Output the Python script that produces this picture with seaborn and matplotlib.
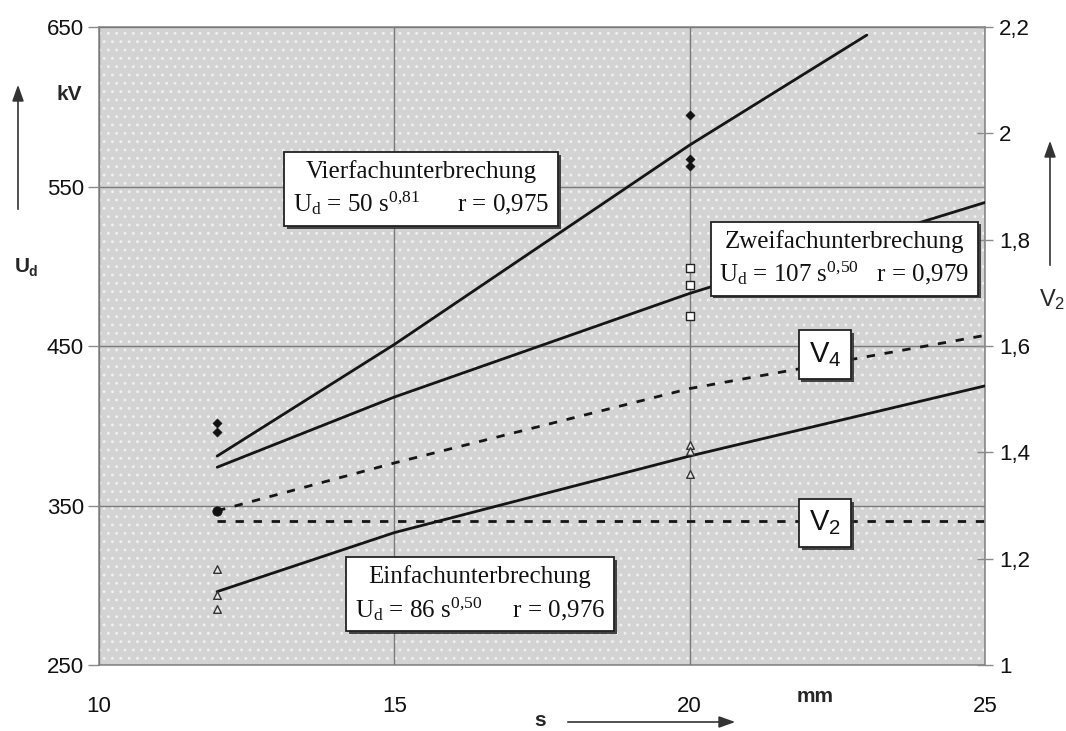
import numpy as np
import pandas as pd
import matplotlib
matplotlib.use('Agg')
import matplotlib.pyplot as plt
import matplotlib.patheffects as pe
from matplotlib.patches import Rectangle, FancyArrowPatch
from matplotlib.ticker import FuncFormatter
import seaborn as sns

# --- Daten ---
# Messpunkte U_d in kV
s_vier_pts = [12, 12, 20, 20, 20]
ud_vier_pts = [402, 396, 595, 567, 563]
s_zwei_pts = [20, 20, 20]
ud_zwei_pts = [499, 488, 469]
s_ein_pts = [12, 12, 12, 20, 20, 20]
ud_ein_pts = [310, 294, 285, 388, 384, 370]

# Ausgleichskurven U_d (kV)
s_vier_fit = [12, 15, 20, 23]
ud_vier_fit = [381, 451, 576, 645]
s_zwei_fit = [12, 15, 20, 25]
ud_zwei_fit = [374, 418, 483, 540]
s_ein_fit = [12, 15, 20, 25]
ud_ein_fit = [296, 333, 381, 425]

# Verhältnisse V4, V2 (rechte Achse)
s_v4 = [12, 15, 20, 25]
v4 = [1.29, 1.38, 1.52, 1.62]
s_v2 = [12, 20, 25]
v2 = [1.27, 1.27, 1.27]

sns.set_theme(style='white')
plt.rcParams['font.family'] = ['Liberation Sans', 'DejaVu Sans']
plt.rcParams['mathtext.fontset'] = 'custom'
plt.rcParams['mathtext.rm'] = 'Liberation Serif'
plt.rcParams['mathtext.it'] = 'Liberation Serif:italic'
plt.rcParams['mathtext.sf'] = 'Liberation Sans'
plt.rcParams['hatch.linewidth'] = 0.9

fig = plt.figure(figsize=(10.66, 7.31), dpi=100)
ax = fig.add_axes([0.0929, 0.0903, 0.8311, 0.8727])
ax2 = ax.twinx()

# Hintergrund grau mit weißem Punktraster
ax.set_facecolor('#d3d3d3')
ax.add_patch(Rectangle((0, 0), 1, 1, transform=ax.transAxes, facecolor='#d3d3d3',
                       hatch='..', edgecolor='#f0f0f0', lw=0, zorder=0))
ax2.patch.set_visible(False)

ax.set_xlim(10, 25)
ax.set_ylim(250, 650)
ax2.set_ylim(1, 2.2)
ax.set_xticks([10, 15, 20, 25])
ax.set_yticks([250, 350, 450, 550, 650])
ax2.set_yticks([1.0, 1.2, 1.4, 1.6, 1.8, 2.0, 2.2])
ax2.yaxis.set_major_formatter(FuncFormatter(lambda v, p: f'{v:g}'.replace('.', ',')))

ax.grid(True, color='#7a7a7a', lw=1.0, zorder=1)
ax.set_axisbelow(False)
for sp in ['left', 'right', 'top', 'bottom']:
    ax.spines[sp].set_color('#8a8a8a')
    ax.spines[sp].set_linewidth(1.2)
    ax2.spines[sp].set_visible(False)
ax.tick_params(axis='both', direction='out', length=8, width=1.0, color='#8a8a8a',
               labelsize=16, labelcolor='#111111', pad=3)
ax.tick_params(axis='x', pad=14)
ax2.tick_params(axis='y', direction='inout', length=12, width=1.0, color='#8a8a8a',
                labelsize=16, labelcolor='#111111', pad=4)

line_kw = dict(color='#151515', lw=2.0, legend=False, zorder=3)
fit_vier = pd.DataFrame({'s': s_vier_fit, 'Ud': ud_vier_fit})
fit_zwei = pd.DataFrame({'s': s_zwei_fit, 'Ud': ud_zwei_fit})
fit_ein = pd.DataFrame({'s': s_ein_fit, 'Ud': ud_ein_fit})
sns.lineplot(data=fit_vier, x='s', y='Ud', ax=ax, **line_kw)
sns.lineplot(data=fit_zwei, x='s', y='Ud', ax=ax, **line_kw)
sns.lineplot(data=fit_ein, x='s', y='Ud', ax=ax, **line_kw)

pts_vier = pd.DataFrame({'s': s_vier_pts, 'Ud': ud_vier_pts})
pts_zwei = pd.DataFrame({'s': s_zwei_pts, 'Ud': ud_zwei_pts})
pts_ein = pd.DataFrame({'s': s_ein_pts, 'Ud': ud_ein_pts})
sns.scatterplot(data=pts_vier, x='s', y='Ud', ax=ax, marker='D', s=22, color='#111111',
                edgecolor='#111111', zorder=4, legend=False)
sns.scatterplot(data=pts_zwei, x='s', y='Ud', ax=ax, marker='s', s=28, color='white',
                edgecolor='#222222', linewidth=1.0, zorder=4, legend=False)
sns.scatterplot(data=pts_ein, x='s', y='Ud', ax=ax, marker='^', s=30, color='#e6e6e6',
                edgecolor='#333333', linewidth=1.0, zorder=4, legend=False)

dash_kw = dict(color='#151515', lw=2.0, legend=False, zorder=3)
v4_df = pd.DataFrame({'s': s_v4, 'V': v4})
v2_df = pd.DataFrame({'s': s_v2, 'V': v2})
sns.lineplot(data=v4_df, x='s', y='V', ax=ax2, **dash_kw)
ax2.lines[-1].set_dashes([3, 3.5])
sns.lineplot(data=v2_df, x='s', y='V', ax=ax2, **dash_kw)
ax2.lines[-1].set_dashes([3, 3.5])
sns.scatterplot(x=[s_v4[0]], y=[v4[0]], ax=ax2, marker='o', s=45, color='#111111',
                edgecolor='#111111', zorder=4, legend=False)
ax.set_xlabel('')
ax.set_ylabel('')
ax2.set_ylabel('')

# Beschriftungskästen (auf ax2, damit sie über allen Linien liegen)
def box(x, y, txt, fs=18, family='Liberation Serif'):
    t = ax2.text(x, y, txt, transform=ax.transData, ha='center', va='center', fontsize=fs,
                 family=family, color='#111111', linespacing=1.3, zorder=6,
                 bbox=dict(boxstyle='square,pad=0.35', facecolor='white', edgecolor='#222222', lw=1.3))
    t.get_bbox_patch().set_path_effects([pe.SimplePatchShadow(offset=(2, -2), shadow_rgbFace='#333333', alpha=0.9),
                                         pe.Normal()])
    return t

box(15.45, 548.5, 'Vierfachunterbrechung\n'
    r'U$_\mathrm{d}$ = 50 s$^{0{,}81}$      r = 0,975')
box(22.62, 505, 'Zweifachunterbrechung\n'
    r'U$_\mathrm{d}$ = 107 s$^{0{,}50}$   r = 0,979')
box(16.45, 294.5, 'Einfachunterbrechung\n'
    r'U$_\mathrm{d}$ = 86 s$^{0{,}50}$     r = 0,976')
box(22.29, 444.5, r'$\mathsf{V}_\mathsf{4}$', fs=21, family='Liberation Sans')
box(22.29, 339, r'$\mathsf{V}_\mathsf{2}$', fs=21, family='Liberation Sans')

# Achsenbeschriftungen mit Pfeilen
fig.text(57 / 1066, 1 - 95 / 731, 'kV', fontsize=15, fontweight='bold', ha='left', va='center')
fig.text(22 / 1066, 1 - 267 / 731, 'U', fontsize=15, fontweight='bold', ha='center', va='center')
fig.text(33 / 1066, 1 - 272 / 731, 'd', fontsize=10, fontweight='bold', ha='center', va='center')
fig.text(815 / 1066, 1 - 697 / 731, 'mm', fontsize=15, fontweight='bold', ha='center', va='center')
fig.text(540 / 1066, 1 - 720 / 731, 's', fontsize=15, fontweight='bold', ha='center', va='center')
fig.text(1052 / 1066, 1 - 300 / 731, r'$\mathsf{V}_\mathsf{2}$', fontsize=17, ha='center', va='center')

arr = dict(arrowstyle='-|>,head_length=0.7,head_width=0.25', color='#333333', lw=1.2,
           mutation_scale=14, transform=fig.transFigure)
fig.add_artist(FancyArrowPatch((18 / 1066, 1 - 212 / 731), (18 / 1066, 1 - 82 / 731), **arr))
fig.add_artist(FancyArrowPatch((1050 / 1066, 1 - 268 / 731), (1050 / 1066, 1 - 138 / 731), **arr))
fig.add_artist(FancyArrowPatch((565 / 1066, 1 - 722 / 731), (738 / 1066, 1 - 722 / 731), **arr))

fig.savefig('out.png', dpi=100, facecolor='white')
